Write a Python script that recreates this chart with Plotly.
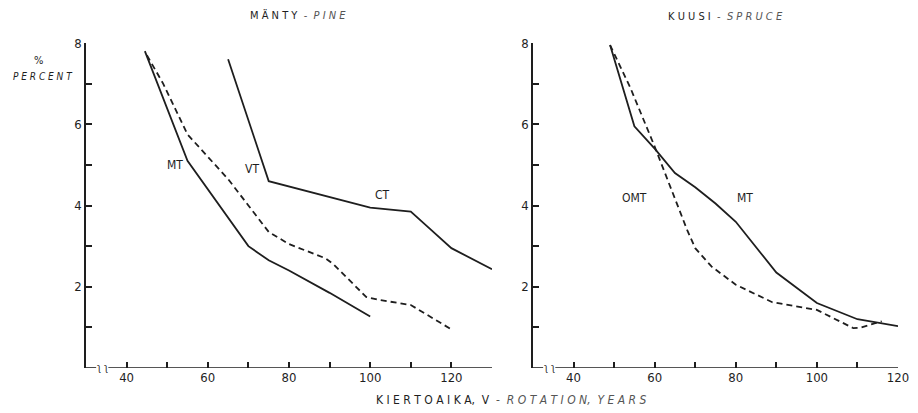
import plotly.graph_objects as go

# ---- data ----
pine_mt_x = [44.5, 55, 70, 75, 80, 90, 100]
pine_mt_y = [7.8, 5.1, 3.0, 2.65, 2.4, 1.85, 1.27]

pine_vt_x = [45, 49, 55, 60, 65, 70, 75, 80, 89, 91, 99, 102, 110, 120]
pine_vt_y = [7.7, 7.0, 5.75, 5.2, 4.65, 4.0, 3.35, 3.05, 2.7, 2.55, 1.75, 1.68, 1.55, 0.95]

pine_ct_x = [65, 75, 100, 110, 115, 120, 130]
pine_ct_y = [7.6, 4.6, 3.95, 3.85, 3.4, 2.95, 2.43]

spruce_mt_x = [49, 55, 60, 65, 70, 75, 80, 90, 100, 110, 120]
spruce_mt_y = [7.95, 5.95, 5.4, 4.8, 4.45, 4.05, 3.6, 2.35, 1.6, 1.2, 1.03]

spruce_omt_x = [49, 54, 60, 62, 65, 68, 70, 74, 80, 89, 100, 109, 111, 116]
spruce_omt_y = [7.95, 6.9, 5.45, 4.95, 4.2, 3.4, 2.95, 2.5, 2.05, 1.62, 1.43, 0.98, 1.0, 1.15]

x_ticks = [40, 60, 80, 100, 120]
y_ticks = [2, 4, 6, 8]

INK = "#1e1e1e"
FONT = "DejaVu Sans Condensed, Liberation Sans Narrow, Arial Narrow, sans-serif"

fig = go.Figure()

def line(x, y, xa, ya, dash="solid"):
    fig.add_trace(go.Scatter(x=x, y=y, xaxis=xa, yaxis=ya, mode="lines",
                             line=dict(color=INK, width=1.8, dash=dash),
                             showlegend=False, hoverinfo="skip"))

line(pine_mt_x, pine_mt_y, "x", "y")
line(pine_vt_x, pine_vt_y, "x", "y", "6px,4px")
line(pine_ct_x, pine_ct_y, "x", "y")
line(spruce_mt_x, spruce_mt_y, "x2", "y2")
line(spruce_omt_x, spruce_omt_y, "x2", "y2", "6px,4px")

ybot, ytop = (413 - 368) / 413, (413 - 43) / 413

def xaxis(domain, rng):
    vals = list(range(40, rng[1] + 1, 10))
    return dict(domain=domain, range=rng, tickmode="array", automargin=False,
                tickvals=vals,
                ticktext=[str(v) if v in x_ticks else "" for v in vals],
                ticks="inside", ticklen=6, tickwidth=1.5, tickcolor=INK,
                showline=False, showgrid=False, zeroline=False,
                tickfont=dict(family=FONT, size=13, color=INK))

def yaxis(anchor):
    vals = [1, 2, 3, 4, 5, 6, 7, 8]
    return dict(domain=[ybot, ytop], range=[0, 8], anchor=anchor, automargin=False,
                tickmode="array", tickvals=vals,
                ticktext=[str(v) if v in y_ticks else "" for v in vals],
                ticks="inside", ticklen=6, tickwidth=1.5, tickcolor=INK,
                showline=True, linecolor=INK, linewidth=1.6,
                showgrid=False, zeroline=False,
                tickfont=dict(family=FONT, size=13, color=INK))

xl = [86 / 918, 492 / 918]
xr = [533 / 918, 898 / 918]

fig.update_layout(
    width=918, height=413,
    margin=dict(l=0, r=0, t=0, b=0, autoexpand=False),
    paper_bgcolor="white", plot_bgcolor="white",
    xaxis=dict(**xaxis(xl, [30, 130]), anchor="y"),
    yaxis=yaxis("x"),
    xaxis2=dict(**xaxis(xr, [30, 120]), anchor="y2"),
    yaxis2=yaxis("x2"),
)

# x axis lines with break
for xa, ya, xend in [("x", "y", 130), ("x2", "y2", 120)]:
    fig.add_shape(type="line", xref=xa, yref=ya, x0=30, x1=32.5, y0=0, y1=0,
                  line=dict(color=INK, width=1.6))
    fig.add_shape(type="line", xref=xa, yref=ya, x0=35.5, x1=xend, y0=0, y1=0,
                  line=dict(color=INK, width=1.6))
    fig.add_annotation(x=34, y=0, xref=xa, yref=ya, text="ʅ ʅ", showarrow=False,
                       font=dict(family=FONT, size=10, color=INK), yshift=1)

def label(text, x, y, xa, ya):
    fig.add_annotation(x=x, y=y, xref=xa, yref=ya, text=text, showarrow=False,
                       font=dict(family=FONT, size=12, color=INK))

label("MT", 52, 5.0, "x", "y")
label("VT", 71, 4.9, "x", "y")
label("CT", 103, 4.26, "x", "y")
label("OMT", 55, 4.19, "x2", "y2")
label("MT", 82.2, 4.19, "x2", "y2")

def ptext(text, x, y, size=11, anchor="center"):
    fig.add_annotation(x=x / 918, y=1 - y / 413, xref="paper", yref="paper", text=text,
                       showarrow=False, xanchor=anchor, yanchor="middle",
                       font=dict(family=FONT, size=size, color=INK))

ptext("M Ä N T Y  <span style='color:#555'>-  <i>P I N E</i></span>", 298, 15, 11)
ptext("K U U S I  <span style='color:#555'>-  <i>S P R U C E</i></span>", 725, 17, 11)
ptext("%", 38, 61, 11)
ptext("<i>P E R C E N T</i>", 43, 76, 10)
ptext("K I E R T O A I K A,  V  <span style='color:#555'>-  <i>R O T A T I O N,  Y E A R S</i></span>",
      511, 400, 12)

fig.write_html("out.html", config={"displayModeBar": False},
               post_script="document.body.style.margin='0';document.body.style.overflow='hidden';")
